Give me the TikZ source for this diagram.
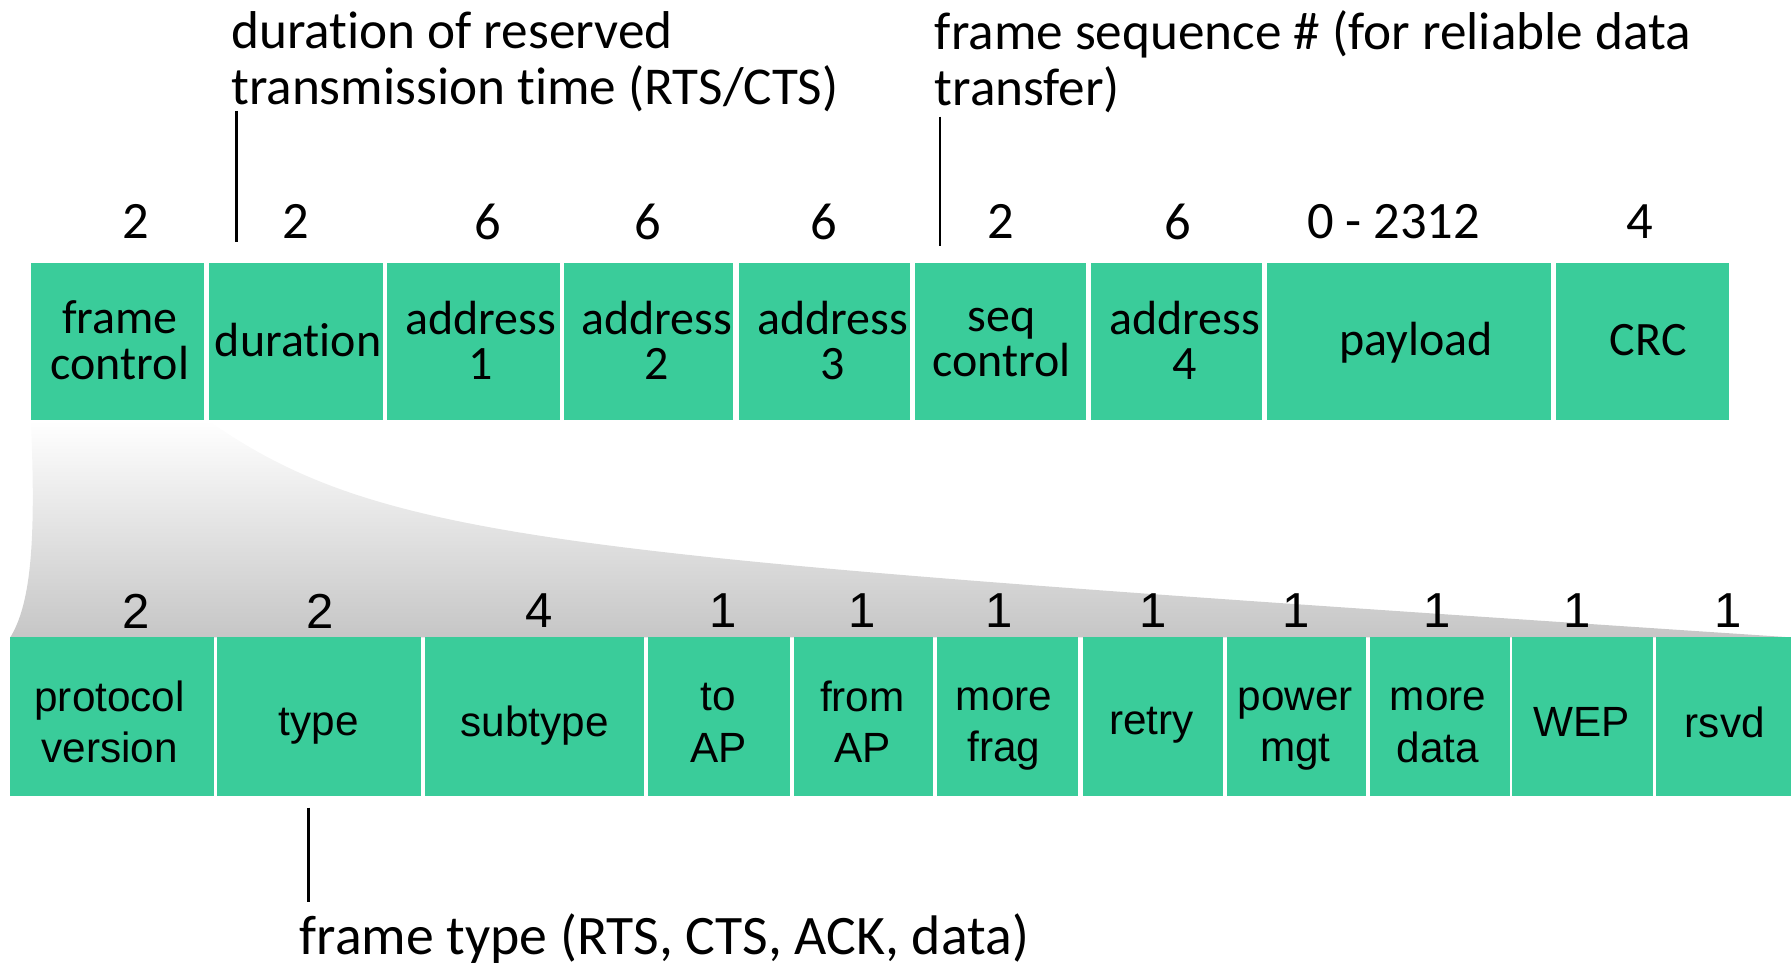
\documentclass[tikz,border=0pt]{standalone}
\usepackage{fontspec}
\setmainfont{Carlito}[Ligatures=NoCommon]
\newfontfamily\arialfont{Liberation Sans}
\usetikzlibrary{fit}
\definecolor{fgreen}{RGB}{58,204,154}
\definecolor{shadegray}{RGB}{198,198,198}
\tikzset{
  field/.style={fill=fgreen, draw=none, inner sep=0pt},
  toplabel/.style={font=\fontsize{21}{20}\selectfont, align=center, inner sep=0pt},
  botlabel/.style={font=\arialfont\fontsize{18.5}{22.5}\selectfont, align=center, inner sep=0pt},
  topnum/.style={font=\fontsize{23}{27}\selectfont, inner sep=0pt},
  botnum/.style={font=\arialfont\fontsize{21.5}{26}\selectfont, inner sep=0pt},
  note/.style={font=\fontsize{23.3}{24.5}\selectfont, align=left, inner sep=0pt, anchor=west},
  pointer/.style={line width=1pt}
}
\begin{document}
\begin{tikzpicture}[x=0.5pt,y=-0.5pt]
\useasboundingbox (0,0) rectangle (1568,847);
% zoom shading
\shade[top color=white, bottom color=shadegray] (27,368) -- (182,368) .. controls (340,478) and (500,487) .. (1568,558) -- (9,558) .. controls (26,530) and (32,480) .. (27,368) -- cycle;
% top row fields
\node[field, fit={(27,230) (179,368)}] (fc) {};
\node[field, fit={(183,230) (335,368)}] (dur) {};
\node[field, fit={(339,230) (490,368)}] (a1) {};
\node[field, fit={(494,230) (642,368)}] (a2) {};
\node[field, fit={(647,230) (797,368)}] (a3) {};
\node[field, fit={(801,230) (951,368)}] (seq) {};
\node[field, fit={(955,230) (1105,368)}] (a4) {};
\node[field, fit={(1109,230) (1358,368)}] (pay) {};
\node[field, fit={(1362,230) (1514,368)}] (crc) {};
\node[toplabel] (fcl) at (105,298) {frame\\control};
\node[toplabel] (durl) at (261,298) {duration};
\node[toplabel] (a1l) at (421,298) {address\\1};
\node[toplabel] (a2l) at (575,298) {address\\2};
\node[toplabel] (a3l) at (729,298) {address\\3};
\node[toplabel] (seql) at (877,300) {seq\\control};
\node[toplabel] (a4l) at (1037,298) {address\\4};
\node[toplabel] (payl) at (1240,300) {payload};
\node[toplabel] (crcl) at (1443,298) {CRC};
% top sizes
\node[topnum] (n1) at (119,194) {2};
\node[topnum] (n2) at (259,194) {2};
\node[topnum] (n3) at (427,194) {6};
\node[topnum] (n4) at (567,194) {6};
\node[topnum] (n5) at (721,194) {6};
\node[topnum] (n6) at (876,194) {2};
\node[topnum] (n7) at (1031,194) {6};
\node[topnum] (n8) at (1220,194) {0 - 2312};
\node[topnum] (n9) at (1436,194) {4};
% bottom row fields
\node[field, fit={(9,558) (187,697)}] (pv) {};
\node[field, fit={(190,558) (369,697)}] (ty) {};
\node[field, fit={(372,558) (564,697)}] (st) {};
\node[field, fit={(567,558) (692,697)}] (tap) {};
\node[field, fit={(695,558) (817,697)}] (fap) {};
\node[field, fit={(820,558) (944,697)}] (mf) {};
\node[field, fit={(948,558) (1071,697)}] (re) {};
\node[field, fit={(1074,558) (1196,697)}] (pm) {};
\node[field, fit={(1199,558) (1322,697)}] (md) {};
\node[field, fit={(1324,558) (1447,697)}] (wep) {};
\node[field, fit={(1450,558) (1568,697)}] (rs) {};
\node[botlabel] (pvl) at (96,632) {protocol\\version};
\node[botlabel] (tyl) at (279,636) {type};
\node[botlabel] (stl) at (468,635) {subtype};
\node[botlabel] (tapl) at (629,633) {to\\AP};
\node[botlabel] (fapl) at (755,632) {from\\AP};
\node[botlabel] (mfl) at (879,638) {more\\frag};
\node[botlabel] (rel) at (1008,635) {retry};
\node[botlabel] (pml) at (1134,638) {power\\mgt};
\node[botlabel] (mdl) at (1259,635) {more\\data};
\node[botlabel] (wepl) at (1385,632) {WEP};
\node[botlabel] (rsl) at (1510,632) {rsvd};
% bottom sizes
\node[botnum] (b1) at (119,535) {2};
\node[botnum] (b2) at (280,535) {2};
\node[botnum] (b3) at (472,535) {4};
\node[botnum] (b4) at (633,535) {1};
\node[botnum] (b5) at (755,535) {1};
\node[botnum] (b6) at (875,535) {1};
\node[botnum] (b7) at (1010,535) {1};
\node[botnum] (b8) at (1135,535) {1};
\node[botnum] (b9) at (1258,535) {1};
\node[botnum] (b10) at (1381,535) {1};
\node[botnum] (b11) at (1513,535) {1};
% annotations
\node[note] (durnote) at (202,54) {duration of reserved\\transmission time (RTS/CTS)};
\node[note] (seqnote) at (818,54) {frame sequence \# (for reliable data\\transfer)};
\node[note, font=\fontsize{24.4}{26}\selectfont] (typenote) at (262,822) {frame type (RTS, CTS, ACK, data)};
\coordinate (d1) at (207,97);
\coordinate (d2) at (207,212);
\coordinate (s1) at (823,102);
\coordinate (s2) at (823,215);
\coordinate (t1) at (270,707);
\coordinate (t2) at (270,790);
\draw[pointer] (d1) -- (d2);
\draw[pointer] (s1) -- (s2);
\draw[pointer] (t1) -- (t2);
\end{tikzpicture}
\end{document}
